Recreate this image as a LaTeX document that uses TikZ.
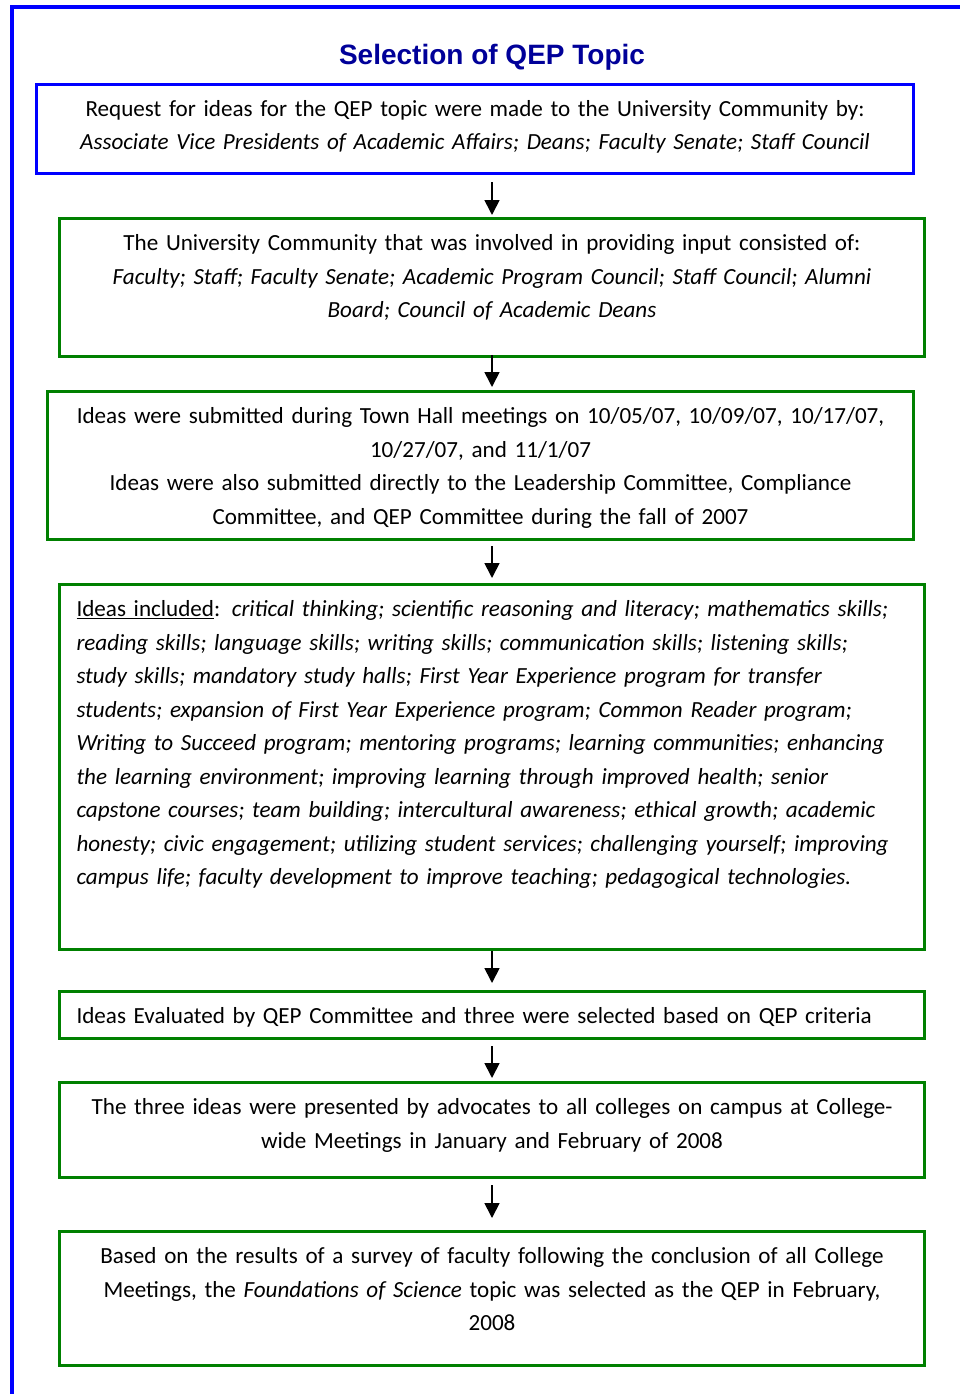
\documentclass[tikz,border=0pt]{standalone}
\usepackage{fontspec}
\setmainfont{Carlito}
\newfontfamily\titlefont{Liberation Sans}
\usetikzlibrary{arrows.meta}
\definecolor{QepBlue}{HTML}{0000FF}
\definecolor{QepNavy}{HTML}{000099}
\definecolor{QepGreen}{HTML}{008000}
\tikzset{
  stepbox/.style={draw=QepGreen,line width=3pt,anchor=north west,inner xsep=17pt,inner ysep=0pt,
    text height=32pt,align=center,font=\fontsize{23.1}{33.5}\selectfont},
  flowarrow/.style={line width=1.7pt,-{Triangle[width=15pt,length=15pt]}},
}

\begin{document}
\begin{tikzpicture}[x=1pt,y=-1pt]
  \useasboundingbox (0,0) rectangle (960,1394);
  \fill[white] (0,0) rectangle (960,1394);
  % page frame
  \draw[QepBlue,line width=4pt] (12,1394) -- (12,7) -- (960,7);
  \node[font=\titlefont\bfseries\fontsize{28}{34}\selectfont,text=QepNavy] (title) at (492,57) {Selection of QEP Topic};
  \node[stepbox,draw=QepBlue,text width=843pt,text depth=57pt] (request) at (35,83)
    {Request for ideas for the QEP topic were made to the University Community by:\\
     \itshape Associate Vice Presidents of Academic Affairs; Deans; Faculty Senate; Staff Council};
  \node[stepbox,text width=831pt,text depth=106pt] (input) at (58,217)
    {The University Community that was involved in providing input consisted of:\\
     {\itshape Faculty; Staff; Faculty Senate; Academic Program Council; Staff Council; Alumni\\
     Board; Council of Academic Deans}};
  \node[stepbox,text width=832pt,text depth=116pt] (townhall) at (46,390)
    {Ideas were submitted during Town Hall meetings on 10/05/07, 10/09/07, 10/17/07,\\
     10/27/07, and 11/1/07\\
     Ideas were also submitted directly to the Leadership Committee, Compliance\\
     Committee, and QEP Committee during the fall of 2007};
  \node[stepbox,align=left,text width=831pt,text depth=333pt] (ideas) at (58,583)
    {\underline{Ideas included}: {\itshape critical thinking; scientific reasoning and literacy; mathematics skills;\\
     reading skills; language skills; writing skills; communication skills; listening skills;\\
     study skills; mandatory study halls; First Year Experience program for transfer\\
     students; expansion of First Year Experience program; Common Reader program;\\
     Writing to Succeed program; mentoring programs; learning communities; enhancing\\
     the learning environment; improving learning through improved health; senior\\
     capstone courses; team building; intercultural awareness; ethical growth; academic\\
     honesty; civic engagement; utilizing student services; challenging yourself; improving\\
     campus life; faculty development to improve teaching; pedagogical technologies.}};
  \node[stepbox,align=left,text width=831pt,text depth=15pt] (evaluated) at (58,990)
    {Ideas Evaluated by QEP Committee and three were selected based on QEP criteria};
  \node[stepbox,text width=831pt,text depth=63pt] (presented) at (58,1081)
    {The three ideas were presented by advocates to all colleges on campus at College-\\
     wide Meetings in January and February of 2008};
  \node[stepbox,text width=831pt,text depth=102pt] (selected) at (58,1230)
    {Based on the results of a survey of faculty following the conclusion of all College\\
     Meetings, the \textit{Foundations of Science} topic was selected as the QEP in February,\\
     2008};
  % arrows between the steps
  \foreach \a/\b/\s/\e in {request/input/7/2,input/townhall/-3/3,townhall/ideas/5/5,
      ideas/evaluated/0/7,evaluated/presented/6/3,presented/selected/6/12}
    \draw[flowarrow,shorten <=\s pt,shorten >=\e pt] (\a.south -| title) -- (\b.north -| title);
\end{tikzpicture}
\end{document}
